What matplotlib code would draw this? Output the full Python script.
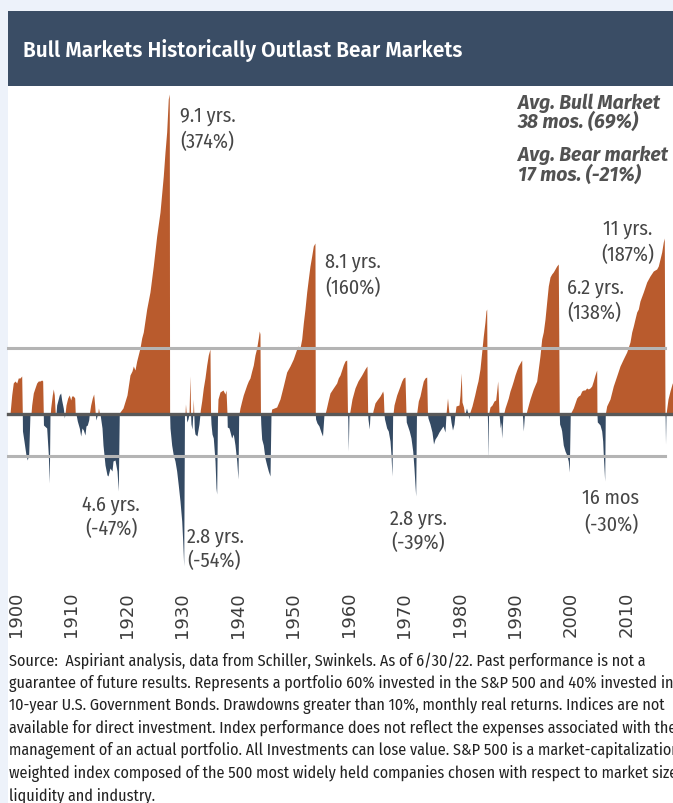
import matplotlib
matplotlib.use("Agg")
import matplotlib.pyplot as plt
from matplotlib.patches import Rectangle

# cumulative real return of each bull market (orange), chart units, by year
bull_points = [
    (1898.92, 0), (1899.23, 19), (1899.51, 31), (1899.82, 33), (1900.13, 31),
    (1900.41, 36), (1900.72, 36), (1901.03, 38), (1901.14, 0),
    (1902.70, 0), (1902.83, 9), (1903.12, 21), (1903.42, 26), (1903.73, 31),
    (1904.02, 33), (1904.32, 33), (1904.63, 34), (1904.81, 33), (1904.92, 0),
    (1906.18, 0), (1906.25, 6), (1906.54, 19), (1906.72, 25), (1906.90, 19), (1907.08, 0),
    (1908.83, 0), (1909.01, 9), (1909.32, 16), (1909.60, 19), (1909.86, 14),
    (1910.04, 18), (1910.32, 18), (1910.58, 16), (1910.68, 0),
    (1913.21, 0), (1913.46, 9), (1913.75, 16), (1914.00, 20), (1914.18, 9), (1914.29, 0),
    (1914.72, 0), (1914.86, 6), (1915.05, 0),
    (1918.61, 0), (1918.74, 2), (1919.28, 6), (1920.00, 19), (1920.54, 39), (1920.90, 43),
    (1921.14, 48), (1921.44, 44), (1921.75, 53), (1922.34, 66), (1922.65, 76), (1922.94, 82),
    (1923.55, 105), (1924.14, 122), (1924.74, 148), (1925.35, 178), (1925.95, 202),
    (1926.54, 238), (1926.85, 262), (1927.15, 282), (1927.44, 315), (1927.62, 320), (1927.68, 0),
    (1930.45, 0), (1930.54, 10), (1930.68, 0),
    (1931.17, 0), (1931.35, 38), (1931.46, 0),
    (1931.86, 0), (1931.95, 15), (1932.04, 0),
    (1933.15, 0), (1933.21, 4), (1933.46, 13), (1933.75, 26), (1934.05, 36), (1934.36, 49),
    (1934.65, 59), (1934.95, 65), (1935.06, 0),
    (1936.31, 0), (1936.40, 15), (1936.76, 22), (1937.30, 24), (1937.66, 20), (1937.84, 24), (1938.02, 0),
    (1940.18, 0), (1940.36, 6), (1940.67, 13), (1940.95, 19), (1941.26, 24), (1941.57, 29),
    (1941.86, 33), (1942.16, 36), (1942.47, 43), (1942.76, 49), (1943.06, 59), (1943.37, 66),
    (1943.66, 76), (1943.84, 83), (1943.96, 80), (1944.05, 0),
    (1945.95, 0), (1946.07, 5), (1946.97, 7), (1947.57, 15), (1948.16, 28), (1948.77, 42),
    (1949.37, 48), (1949.96, 55), (1950.58, 65), (1950.86, 68), (1951.17, 66), (1951.48, 75),
    (1951.77, 91), (1952.07, 105), (1952.38, 122), (1952.67, 135), (1952.97, 148),
    (1953.28, 158), (1953.57, 168), (1953.87, 171), (1953.93, 0),
    (1955.68, 0), (1955.86, 4), (1956.27, 14), (1956.58, 21), (1957.17, 26), (1957.78, 31),
    (1958.07, 36), (1958.38, 39), (1958.68, 44), (1958.97, 49), (1959.28, 53), (1959.59, 54), (1959.73, 0),
    (1960.09, 0), (1960.18, 3), (1960.54, 15), (1961.08, 26), (1961.62, 33), (1962.29, 39),
    (1962.88, 45), (1963.24, 48), (1963.37, 0),
    (1964.23, 0), (1964.32, 3), (1964.68, 11), (1965.05, 14), (1965.59, 18), (1965.89, 21),
    (1966.07, 23), (1966.18, 20), (1966.31, 0),
    (1967.93, 0), (1968.11, 9), (1968.59, 19), (1969.19, 28), (1969.50, 33), (1969.78, 36),
    (1970.09, 37), (1970.27, 0),
    (1972.16, 0), (1972.25, 3), (1972.49, 13), (1972.79, 18), (1973.10, 26), (1973.39, 33),
    (1973.69, 36), (1974.00, 37), (1974.14, 0),
    (1977.48, 0), (1977.75, 16), (1978.02, 0),
    (1979.10, 0), (1979.28, 8), (1979.82, 9), (1980.00, 19), (1980.23, 41), (1980.36, 12),
    (1980.63, 7), (1980.81, 0),
    (1981.71, 0), (1981.80, 2), (1982.16, 8), (1982.65, 19), (1983.01, 28), (1983.24, 33),
    (1983.60, 45), (1983.91, 62), (1984.20, 78), (1984.50, 92), (1984.68, 103), (1984.81, 105),
    (1984.92, 0),
    (1985.14, 0), (1985.41, 7), (1985.77, 9), (1986.13, 13), (1986.43, 14), (1986.67, 26),
    (1986.79, 33), (1986.90, 20), (1987.03, 0),
    (1987.87, 0), (1988.11, 6), (1988.41, 11), (1988.70, 16), (1989.01, 23), (1989.32, 28),
    (1989.60, 33), (1989.91, 39), (1990.22, 44), (1990.50, 48), (1990.81, 51), (1991.12, 54),
    (1991.23, 0),
    (1991.89, 0), (1992.07, 4), (1992.61, 15), (1993.21, 25), (1993.82, 33), (1994.41, 58),
    (1994.72, 75), (1995.01, 82), (1995.32, 95), (1995.62, 112), (1995.91, 128), (1996.22, 137),
    (1996.52, 140), (1996.81, 142), (1997.12, 145), (1997.42, 148), (1997.71, 150), (1997.89, 0),
    (1999.87, 0), (2000.13, 3), (2000.41, 6), (2000.72, 11), (2001.03, 16), (2001.32, 18),
    (2001.62, 19), (2001.93, 23), (2002.22, 24), (2002.52, 24), (2002.83, 26), (2003.12, 25),
    (2003.42, 26), (2003.73, 28), (2004.02, 33), (2004.32, 39), (2004.63, 44), (2004.68, 0),
    (2006.18, 0), (2006.43, 8), (2007.03, 15), (2007.62, 28), (2008.23, 38), (2008.83, 48),
    (2009.42, 55), (2010.04, 62), (2010.63, 72), (2010.94, 82), (2011.23, 88), (2011.53, 95),
    (2011.84, 102), (2012.13, 105), (2012.43, 113), (2013.03, 122), (2013.64, 132),
    (2014.23, 138), (2014.83, 143), (2015.44, 145), (2015.73, 148), (2016.04, 155),
    (2016.34, 162), (2016.63, 172), (2016.81, 176), (2016.94, 0),
    (2017.12, 0), (2017.48, 15), (2017.84, 23), (2018.20, 30), (2018.56, 35),
]

# drawdowns (navy), same units
bear_points = [
    (1901.14, 0), (1901.17, -17), (1901.44, -27), (1901.80, -41), (1902.04, -46),
    (1902.29, -40), (1902.52, 0),
    (1904.92, 0), (1904.95, -11), (1905.53, -14), (1905.82, -40), (1906.00, -69), (1906.13, 0),
    (1907.21, 0), (1907.33, 9), (1907.80, 19), (1908.05, 21), (1908.23, 14), (1908.52, 6),
    (1908.65, 0), (1908.70, -4), (1908.83, 0),
    (1910.81, 0), (1911.05, -7), (1911.41, -14), (1911.66, -22), (1911.89, -14), (1912.13, -16),
    (1912.43, -21), (1912.61, -12), (1912.85, -11), (1913.10, -6), (1913.21, 0),
    (1914.29, 0), (1914.41, -6), (1914.68, 0),
    (1915.14, 0), (1915.50, -14), (1915.68, -31), (1916.04, -51), (1916.40, -61), (1916.58, -62),
    (1916.94, -54), (1917.30, -57), (1917.48, -47), (1917.84, -46), (1918.20, -57),
    (1918.43, -77), (1918.61, 0),
    (1927.68, 0), (1927.75, -14), (1928.05, -31), (1928.34, -41), (1928.65, -47), (1928.95, -57),
    (1929.24, -71), (1929.55, -87), (1929.86, -107), (1930.04, -127), (1930.22, -152), (1930.36, 0),
    (1930.68, 0), (1930.77, -8), (1930.99, -5), (1931.17, 0),
    (1931.46, 0), (1931.53, -10), (1931.71, -15), (1931.86, 0),
    (1932.04, 0), (1932.13, -15), (1932.25, -20), (1932.61, -22), (1932.97, -10), (1933.15, 0),
    (1935.06, 0), (1935.14, -10), (1935.32, -20), (1935.55, -24), (1935.86, -47), (1936.04, -74),
    (1936.16, -80), (1936.31, 0),
    (1938.02, 0), (1938.07, -13), (1938.38, -14), (1938.86, -24), (1939.15, -20), (1939.46, -31),
    (1939.77, -47), (1940.00, -65), (1940.13, 0),
    (1944.05, 0), (1944.11, -10), (1944.27, -25), (1944.56, -31), (1944.86, -44), (1945.17, -51),
    (1945.46, -57), (1945.77, -62), (1945.95, 0),
    (1953.93, 0), (1953.98, -5), (1954.23, -9), (1954.59, -12), (1954.95, -18), (1955.23, -22),
    (1955.50, 0),
    (1959.73, 0), (1959.78, -5), (1959.87, -37), (1960.00, 0),
    (1963.37, 0), (1963.42, -5), (1963.66, -15), (1963.78, 0),
    (1966.31, 0), (1966.40, -5), (1966.49, -7), (1966.79, -14), (1967.08, -17), (1967.39, -27),
    (1967.57, -41), (1967.75, -62), (1967.87, 0),
    (1970.27, 0), (1970.32, -8), (1970.50, -11), (1970.86, -17), (1971.17, -24), (1971.48, -37),
    (1971.71, -54), (1971.89, -71), (1972.02, -82), (1972.16, 0),
    (1974.14, 0), (1974.23, -4), (1974.59, -10), (1974.95, -18), (1975.23, -30), (1975.50, -25),
    (1975.86, -22), (1976.22, -18), (1976.58, -15), (1976.94, -12), (1977.30, -18), (1977.48, 0),
    (1978.20, 0), (1978.38, -8), (1978.65, -16), (1978.92, -10), (1979.10, 0),
    (1980.90, 0), (1981.17, 6), (1981.44, 0), (1981.62, -5), (1981.71, 0),
    (1984.92, 0), (1984.97, -10), (1985.05, -45), (1985.14, 0),
    (1987.03, 0), (1987.12, -5), (1987.26, -14), (1987.39, -8), (1987.51, -24), (1987.75, 0),
    (1991.23, 0), (1991.30, -5), (1991.41, -17), (1991.62, 0),
    (1997.89, 0), (1997.95, -10), (1998.20, -14), (1998.32, -17), (1998.61, -31), (1998.92, -37),
    (1999.23, -41), (1999.51, -47), (1999.69, -58), (1999.87, 0),
    (2004.68, 0), (2004.74, -8), (2004.92, -9), (2005.23, -11), (2005.53, -17), (2005.71, -27),
    (2005.82, -41), (2005.95, -54), (2006.07, -67), (2006.18, 0),
    (2016.94, 0), (2016.97, -5), (2017.03, -30), (2017.12, 0),
]

avg_bull_level = 66
avg_bear_level = -42

decades = list(range(1900, 2020, 10))

# (year, height of first line, height of second line, text1, text2, alignment)
callouts = [
    (1929.55, 299, 273, "9.1 yrs.", "(374%)", "left"),
    (1955.68, 153, 127, "8.1 yrs.", "(160%)", "left"),
    (2010.27, 186, 160, "11 yrs.", "(187%)", "center"),
    (1999.28, 127, 102, "6.2 yrs.", "(138%)", "left"),
    (1917.12, -90, -114, "4.6 yrs.", "(-47%)", "center"),
    (1930.81, -122, -146, "2.8 yrs.", "(-54%)", "left"),
    (1972.43, -104, -128, "2.8 yrs.", "(-39%)", "center"),
    (2007.21, -83, -110, "16 mos", "(-30%)", "center"),
]

avg_lines = ["Avg. Bull Market", "38 mos. (69%)", "Avg. Bear market", "17 mos. (-21%)"]
avg_heights = [312, 293, 260, 240]

title = "Bull Markets Historically Outlast Bear Markets"
source_lines = [
    "Source:  Aspiriant analysis, data from Schiller, Swinkels. As of 6/30/22. Past performance is not a",
    "guarantee of future results. Represents a portfolio 60% invested in the S&P 500 and 40% invested in",
    "10-year U.S. Government Bonds. Drawdowns greater than 10%, monthly real returns. Indices are not",
    "available for direct investment. Index performance does not reflect the expenses associated with the",
    "management of an actual portfolio. All Investments can lose value. S&P 500 is a market-capitalization",
    "weighted index composed of the 500 most widely held companies chosen with respect to market size,",
    "liquidity and industry.",
]

ORANGE = "#b95b2d"
NAVY = "#344a63"
HEADER = "#3a4d65"
PAGE = "#edf2fa"
COND = ["Fira Sans Condensed", "DejaVu Sans"]

W, H = 673, 804
fig = plt.figure(figsize=(W / 100, H / 100), dpi=100, facecolor=PAGE)

# white card and dark title band behind everything
fig.patches.append(Rectangle((8 / W, 0), 1, (H - 12) / H, transform=fig.transFigure,
                             facecolor="white", edgecolor="none", zorder=-2))
fig.patches.append(Rectangle((8 / W, (H - 87) / H), 1, 75 / H, transform=fig.transFigure,
                             facecolor=HEADER, edgecolor="none", zorder=-1))
fig.text(23 / W, 1 - 57.3 / H, title, color="white", fontsize=15, fontweight="semibold",
         family=["Fira Sans", "DejaVu Sans"], va="baseline", ha="left")

ax = fig.add_axes([0, (H - 585) / H, 1, 497 / H])
ax.set_facecolor("none")
ax.set_xlim(1897.12, 2018.38)
ax.set_ylim(-170, 327)

bx, by = zip(*bull_points)
nx, ny = zip(*bear_points)
ax.fill_between(bx, by, 0, color=ORANGE, lw=0, zorder=2)
ax.fill_between(nx, ny, 0, color=NAVY, lw=0, zorder=2)

ax.axhline(avg_bull_level, xmin=8 / W, xmax=665 / W, color="#b4b4b4", lw=2.2, zorder=3)
ax.axhline(avg_bear_level, xmin=8 / W, xmax=665 / W, color="#b4b4b4", lw=2.2, zorder=3)
ax.axhline(0, xmin=8 / W, xmax=1, color="#595959", lw=2.4, zorder=4)

for x, h1, h2, t1, t2, ha in callouts:
    ax.text(x, h1, t1, ha=ha, va="center", fontsize=14.5, color="#464646", family=COND)
    ax.text(x, h2, t2, ha=ha, va="center", fontsize=14.5, color="#464646", family=COND)

for t, h in zip(avg_lines, avg_heights):
    ax.text(1990.45, h, t, ha="left", va="center", fontsize=14, fontweight="bold",
            style="italic", color="#525252", family=["Fira Sans", "DejaVu Sans"])

ax.set_xticks(decades)
ax.set_xticklabels([str(d) for d in decades], rotation=90, fontsize=13,
                   color="#3c3c3c", va="top", ha="center")
ax.tick_params(axis="x", length=0, pad=5)
ax.set_yticks([])
for s in ax.spines.values():
    s.set_visible(False)

for i, line in enumerate(source_lines):
    fig.text(9 / W, 1 - (665.5 + 22.5 * i) / H, line, fontsize=11.6, color="#222222",
             family=COND, va="baseline", ha="left")

fig.savefig("out.png", dpi=100, facecolor=PAGE)
